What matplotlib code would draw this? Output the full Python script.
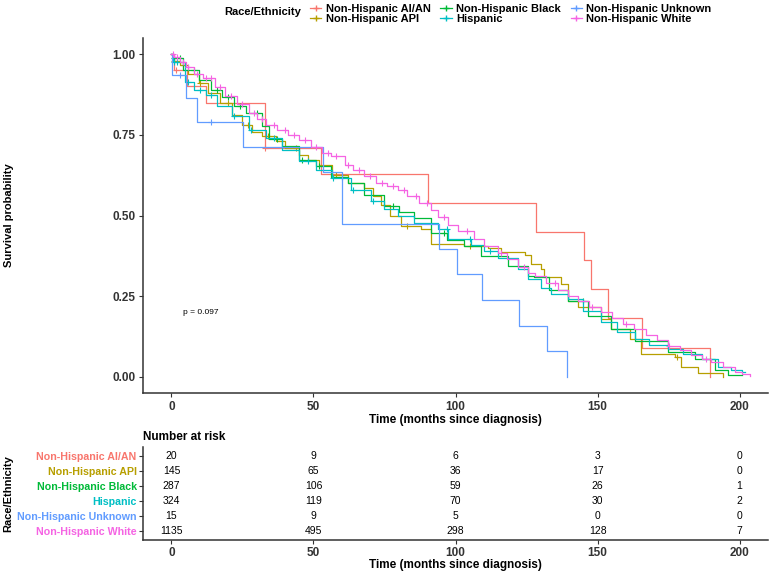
import matplotlib.pyplot as plt
import numpy as np
from matplotlib.lines import Line2D

plt.rcParams['font.family'] = ['Liberation Sans', 'DejaVu Sans']

# groups and ggplot hue colours
groups = ['Non-Hispanic AI/AN', 'Non-Hispanic API', 'Non-Hispanic Black',
          'Hispanic', 'Non-Hispanic Unknown', 'Non-Hispanic White']
colors = ['#F8766D', '#B79F00', '#00BA38', '#00BFC4', '#619CFF', '#F564E3']

# Kaplan-Meier curves (time in months, survival)
t_aian = [0, 1, 5.5, 12, 33, 52.6, 90.2, 128.4, 145.4, 147.6, 153.7, 165.7, 189.5]
s_aian = [1.0, 0.95, 0.90, 0.85, 0.709, 0.629, 0.539, 0.450, 0.361, 0.271, 0.181, 0.090, 0.0]

t_api = [0, 0.5, 3, 6, 9.6, 13, 17, 21.4, 25, 28.5, 32, 36.7, 40, 44.9, 48, 52, 56.7, 62,
         67.8, 71, 73.7, 77, 80.8, 87.8, 91.4, 103.1, 111.3, 116, 124.3, 126.6, 130.2,
         131.3, 137.2, 139.6, 143.1, 151.3, 154.9, 161.3, 165.4, 177.2, 179.5, 185.4, 194.2]
s_api = [1.0, 0.98, 0.965, 0.94, 0.91, 0.88, 0.85, 0.812, 0.78, 0.76, 0.745, 0.73, 0.71,
         0.688, 0.672, 0.657, 0.627, 0.60, 0.585, 0.56, 0.534, 0.50, 0.469, 0.457, 0.412,
         0.405, 0.40, 0.387, 0.377, 0.349, 0.333, 0.308, 0.287, 0.236, 0.215, 0.179, 0.148,
         0.117, 0.071, 0.061, 0.030, 0.012, 0.0]

t_black = [0, 0.5, 4, 9.6, 14, 17.9, 22, 26.1, 32, 34.3, 39, 44.9, 50.8, 56, 62, 67.8,
           74.9, 80, 85.5, 91.4, 97, 103.1, 109, 118.4, 125.4, 127.8, 133, 139.6, 146.6,
           154.9, 163.1, 174.8, 184.2, 191.3, 196, 201]
s_black = [1.0, 0.987, 0.95, 0.92, 0.89, 0.868, 0.84, 0.817, 0.776, 0.737, 0.714, 0.673,
           0.652, 0.62, 0.60, 0.565, 0.529, 0.51, 0.493, 0.446, 0.425, 0.405, 0.374, 0.344,
           0.313, 0.308, 0.27, 0.236, 0.189, 0.148, 0.112, 0.076, 0.055, 0.02, 0.006, 0.006]

t_hisp = [0, 0.5, 4.9, 8, 12, 16, 21.4, 27.3, 33.2, 39, 44.9, 50.8, 56.7, 63.1, 70.2, 75,
          79.6, 85.5, 93.7, 97.2, 105.5, 110, 114.9, 121.9, 125.5, 130, 133.7, 139.6, 145,
          151.3, 157, 163.1, 168, 174.8, 180, 186.6, 192.5, 197, 200.7, 202]
s_hisp = [1.0, 0.976, 0.915, 0.89, 0.874, 0.84, 0.807, 0.766, 0.74, 0.704, 0.668, 0.642,
          0.616, 0.58, 0.544, 0.52, 0.498, 0.477, 0.457, 0.426, 0.41, 0.39, 0.369, 0.333,
          0.303, 0.275, 0.256, 0.241, 0.205, 0.169, 0.14, 0.117, 0.10, 0.087, 0.07, 0.056,
          0.03, 0.02, 0.015, 0.015]

t_unk = [0, 0.3, 5.2, 9, 25.2, 53.4, 60.2, 94.3, 100.4, 109.3, 122.5, 132.3, 139.3]
s_unk = [1.0, 0.935, 0.863, 0.791, 0.712, 0.634, 0.475, 0.397, 0.318, 0.239, 0.158, 0.080, 0.0]

t_white = [0, 1, 3, 5, 8, 11, 15.5, 19, 23, 27.3, 30, 33.2, 37, 41, 44.9, 49, 53, 56, 61,
           64, 67.8, 72, 76, 79.6, 83, 87, 91.4, 94, 97.2, 101, 106.6, 110, 114.9, 118, 122,
           125.4, 128, 132, 136, 139.6, 143, 147, 151.3, 155, 159, 163, 167, 171, 174.8,
           179, 183, 186.6, 190, 194, 198.4, 201, 203.6]
s_white = [1.0, 0.99, 0.975, 0.96, 0.94, 0.925, 0.899, 0.87, 0.845, 0.817, 0.80, 0.781,
           0.765, 0.75, 0.735, 0.712, 0.693, 0.683, 0.657, 0.64, 0.621, 0.60, 0.59, 0.58,
           0.56, 0.54, 0.518, 0.495, 0.472, 0.452, 0.426, 0.405, 0.385, 0.365, 0.34, 0.323,
           0.313, 0.29, 0.27, 0.251, 0.235, 0.218, 0.20, 0.183, 0.165, 0.148, 0.13, 0.113,
           0.097, 0.083, 0.068, 0.056, 0.045, 0.03, 0.014, 0.008, 0.004]

# censoring times (+ marks)
c_aian = [1.5, 33]
c_api = [1, 4, 10, 20, 27, 34, 44, 58, 83, 105, 178]
c_black = [1, 3, 8, 16, 20, 24, 30, 37, 46, 52, 60, 78, 96, 145]
c_hisp = [1, 2, 6, 10, 14, 22, 28, 36, 48, 57, 64, 71, 97, 105, 112]
c_unk = [3, 14]
c_white = [0.5, 2, 4, 6, 9, 12, 14, 17, 21, 25, 29, 32, 36, 40, 43, 47, 51, 55, 58, 62,
           66, 70, 74, 78, 82, 86, 90, 96, 104, 116, 124, 135, 148, 160, 175, 188]

curves = [(t_aian, s_aian, c_aian), (t_api, s_api, c_api), (t_black, s_black, c_black),
          (t_hisp, s_hisp, c_hisp), (t_unk, s_unk, c_unk), (t_white, s_white, c_white)]

# number at risk table
risk_times = [0, 50, 100, 150, 200]
risk_aian = [20, 9, 6, 3, 0]
risk_api = [145, 65, 36, 17, 0]
risk_black = [287, 106, 59, 26, 1]
risk_hisp = [324, 119, 70, 30, 2]
risk_unk = [15, 9, 5, 0, 0]
risk_white = [1135, 495, 298, 128, 7]
risks = [risk_aian, risk_api, risk_black, risk_hisp, risk_unk, risk_white]

pval_text = 'p = 0.097'

fig = plt.figure(figsize=(7.71, 5.71), dpi=100)
ax = fig.add_axes([143 / 771, 1 - 393 / 571, 625 / 771, (393 - 38) / 571])
axt = fig.add_axes([143 / 771, 1 - 540 / 571, 625 / 771, 93 / 571])

tick_col = '#333333'
for (t, s, c), col in zip(curves, colors):
    t = np.array(t)
    s = np.array(s)
    ax.step(t, s, where='post', color=col, lw=0.9)
    c = np.array(c)
    idx = np.searchsorted(t, c, side='right') - 1
    ax.plot(c, s[idx], '+', color=col, ms=4, mew=0.8)

ax.set_xlim(-10, 210)
ax.set_ylim(-0.05, 1.05)
ax.set_xticks(risk_times)
ax.set_yticks([0, 0.25, 0.5, 0.75, 1.0])
ax.set_yticklabels(['0.00', '0.25', '0.50', '0.75', '1.00'])
ax.text(4, 0.2, pval_text, fontsize=6, va='center', ha='left')
ax.set_xlabel('Time (months since diagnosis)', fontsize=8.5, fontweight='bold', labelpad=1)
ax.set_ylabel('Survival probability', fontsize=8, fontweight='bold')
ax.yaxis.set_label_coords(-0.207, 0.5)

for a in (ax, axt):
    for sp in ['top', 'right']:
        a.spines[sp].set_visible(False)
    for sp in ['left', 'bottom']:
        a.spines[sp].set_color('#333333')
        a.spines[sp].set_linewidth(1.1)
    a.tick_params(length=3, width=0.8, color='#333333', labelsize=8.5,
                  labelcolor=tick_col, pad=2.5)
    for lab in a.get_xticklabels() + a.get_yticklabels():
        lab.set_fontweight('bold')

# risk table
n = len(groups)
for i, (r, col) in enumerate(zip(risks, colors)):
    y = n - i
    for tt, v in zip(risk_times, r):
        axt.text(tt, y, str(v), ha='center', va='center', fontsize=7.5)
axt.set_xlim(-10, 210)
axt.set_ylim(0.4, n + 0.6)
axt.set_xticks(risk_times)
axt.tick_params(axis='x', pad=2)
axt.tick_params(axis='y', pad=1.5)
axt.set_yticks([n - i for i in range(n)])
axt.set_yticklabels(groups)
for lab, col in zip(axt.get_yticklabels(), colors):
    lab.set_color(col)
    lab.set_fontweight('bold')
    lab.set_fontsize(7.7)
axt.set_xlabel('Time (months since diagnosis)', fontsize=8.5, fontweight='bold', labelpad=0)
axt.set_title('Number at risk', loc='left', fontsize=8.5, fontweight='bold', pad=5)
axt.set_ylabel('Race/Ethnicity', fontsize=8, fontweight='bold')
axt.yaxis.set_label_coords(-0.207, 0.5)

# legend on top
handles = [Line2D([], [], color=c, marker='+', lw=0.9, ms=5) for c in colors]
fig.text(224 / 771, 1 - 12 / 571, 'Race/Ethnicity', fontsize=8, fontweight='bold',
         va='center', ha='left')
fig.legend(handles, groups, ncol=3, loc='upper left', bbox_to_anchor=(300 / 771, 1.01),
           frameon=False, handlelength=1.0, handletextpad=0.4, columnspacing=0.9,
           labelspacing=0.0, prop={'weight': 'bold', 'size': 8})

fig.savefig('out.png', dpi=100)
